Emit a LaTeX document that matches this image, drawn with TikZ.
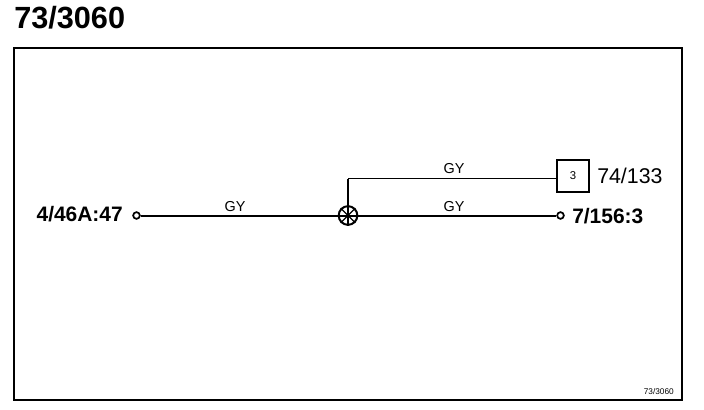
\documentclass[tikz,border=0pt]{standalone}
\usepackage{fontspec}
\setmainfont{Liberation Sans}
\begin{document}
\begin{tikzpicture}[x=0.75pt,y=-0.75pt,
  wire/.style={draw=black,line width=1.5pt},
  thinwire/.style={draw=black,line width=1pt},
  term/.style={circle,draw=black,line width=1.3pt,fill=white,minimum size=5pt,inner sep=0pt},
  lbl/.style={inner sep=0pt,font=\fontsize{10.8pt}{12pt}\selectfont},
  pin/.style={inner sep=0pt,font=\bfseries\fontsize{15.7pt}{18pt}\selectfont},
  conn/.style={inner sep=0pt,font=\fontsize{16pt}{18pt}\selectfont}]
\useasboundingbox (0,0) rectangle (704,410);
\fill[white] (0,0) rectangle (704,410);
\node[inner sep=0pt,anchor=base west,font=\bfseries\fontsize{23pt}{26pt}\selectfont] (title) at (14,29) {73/3060};
\draw[line width=2pt] (14,48) rectangle (682,400);
\coordinate (c) at (348,178.5);
\node[circle,draw=black,line width=1.5pt,minimum size=14pt,inner sep=0pt] (j) at (348,215.5) {};
\foreach \ang in {0,45,90,135}{
  \draw[line width=0.85pt] (j.\ang) -- (j.\ang+180);
}
\node[term] (a) at (136.5,215.5) {};
\node[term] (b) at (560.5,215.5) {};
\node[draw=black,line width=1pt,minimum width=24pt,minimum height=24pt,inner sep=0pt] (box) at (573,176) {\fontsize{8.5pt}{10pt}\selectfont 3};
\draw[wire] (a) -- (j.center);
\draw[wire] (j.center) -- (b);
\draw[wire] (j.center) -- (c);
\draw[thinwire] (c) -- (c -| box.west);
\node[lbl,anchor=base] (g1) at (235,211) {GY};
\node[lbl,anchor=base] (g2) at (454,211) {GY};
\node[lbl,anchor=base] (g3) at (454,174) {GY};
\node[pin,anchor=base east] (l1) at (123,221) {4/46A:47};
\node[pin,anchor=base west] (l2) at (572,223.5) {7/156:3};
\node[conn,anchor=base west] (l3) at (597,183.5) {74/133};
\node[anchor=base east,inner sep=0pt,font=\fontsize{6.2pt}{7pt}\selectfont] (ref) at (674,394) {73/3060};
\end{tikzpicture}
\end{document}
